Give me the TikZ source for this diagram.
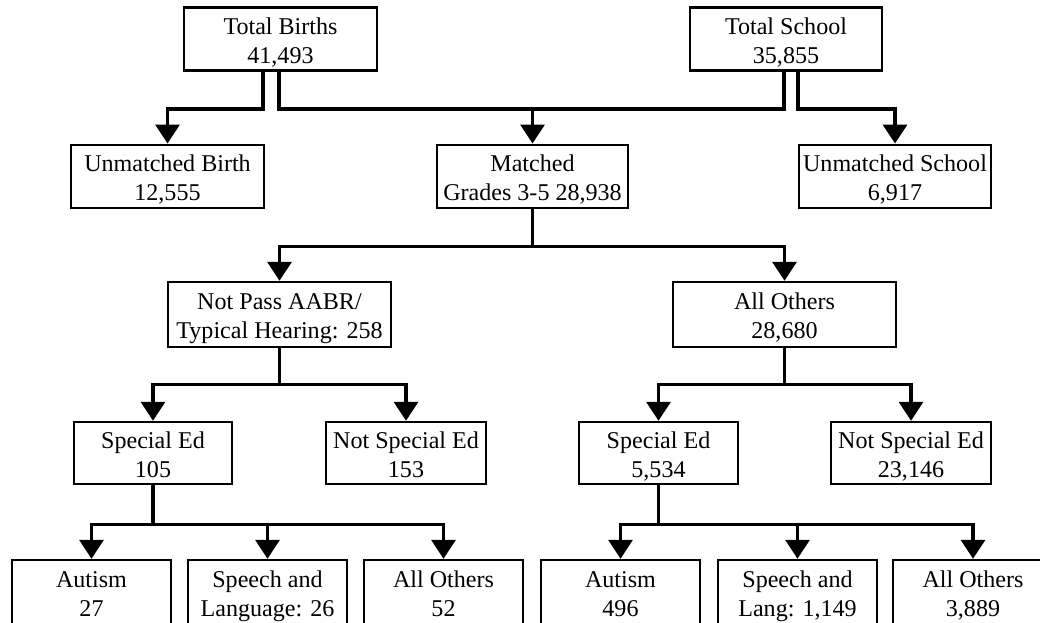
\documentclass[tikz,border=0pt]{standalone}
\usepackage{fontspec}
\setmainfont{Liberation Serif}
\usetikzlibrary{arrows.meta, positioning}
\tikzset{
    box/.style={rectangle, draw=black, line width=0.05cm, inner sep=0pt, minimum width=#1, minimum height=1.27cm, align=center, text height=30.5pt, text depth=3pt, font=\fontsize{13.7}{16.5}\selectfont},
    box/.default=3.2cm,
    arrow/.style={line width=0.07cm, -{Triangle[length=0.38cm, width=0.48cm]}},
    link/.style={line width=0.07cm}
}

\begin{document}
\begin{tikzpicture}[
        x=0.02cm, y=-0.02cm % one unit = one pixel of the layout, y going down
    ]
        \useasboundingbox (0,0) rectangle (1040,622);

        % Nodes
        \node[box=3.86cm] (births) at (280.5,39) {Total Births\\41,493};
        \node[box=3.84cm] (school) at (786,39) {Total School\\35,855};
        \node[box=3.86cm] (unbirth) at (167.5,176.5) {Unmatched Birth\\12,555};
        \node[box=3.82cm] (matched) at (532.5,176.5) {Matched\\Grades 3-5 28,938};
        \node[box=3.84cm] (unschool) at (895,176.5) {Unmatched School\\6,917};
        \node[box=4.46cm, minimum height=1.3cm] (notpass) at (279.5,314.5) {Not Pass AABR/\\Typical Hearing: 258};
        \node[box=4.46cm, minimum height=1.3cm] (others) at (784.5,314.5) {All Others\\28,680};
        \node[box=3.16cm, minimum height=1.24cm] (spedA) at (153,453) {Special Ed\\105};
        \node[box, minimum height=1.24cm] (nspedA) at (406,453) {Not Special Ed\\153};
        \node[box=3.18cm, minimum height=1.24cm] (spedB) at (658.5,453) {Special Ed\\5,534};
        \node[box, minimum height=1.24cm] (nspedB) at (911,453) {Not Special Ed\\23,146};
        \node[box=3.18cm, minimum height=1.28cm] (autA) at (91.5,592) {Autism\\27};
        \node[box=3.18cm, minimum height=1.28cm] (langA) at (267.5,592) {Speech and\\Language: 26};
        \node[box=3.18cm, minimum height=1.28cm] (restA) at (443.5,592) {All Others\\52};
        \node[box=3.18cm, minimum height=1.28cm] (autB) at (620.5,592) {Autism\\496};
        \node[box=3.18cm, minimum height=1.28cm] (langB) at (797.5,592) {Speech and\\Lang: 1,149};
        \node[box, minimum height=1.28cm] (restB) at (973,592) {All Others\\3,889};
        \coordinate (mtop) at (532.5,108);

        % Arrows
        \draw[arrow] ([xshift=-0.35cm]births.south) -- ++(0,37) -| (unbirth.north);
        \draw[link] ([xshift=-0.03cm]births.south) -- ++(0,37) -| ([xshift=-0.04cm]school.south);
        \draw[arrow] ([xshift=0.24cm]school.south) -- ++(0,37) -| (unschool.north);
        \draw[arrow] (mtop) -- (matched.north);
        \draw[arrow] (matched.south) -- ++(0,37) -| (notpass.north);
        \draw[arrow] (matched.south) -- ++(0,37) -| (others.north);
        \draw[arrow] (notpass.south) -- ++(0,36) -| (spedA.north);
        \draw[arrow] (notpass.south) -- ++(0,36) -| (nspedA.north);
        \draw[arrow] (others.south) -- ++(0,36) -| (spedB.north);
        \draw[arrow] (others.south) -- ++(0,36) -| (nspedB.north);
        \draw[arrow] (spedA.south) -- ++(0,39) -| (autA.north);
        \draw[arrow] (spedA.south) -- ++(0,39) -| (langA.north);
        \draw[arrow] (spedA.south) -- ++(0,39) -| (restA.north);
        \draw[arrow] (spedB.south) -- ++(0,39) -| (autB.north);
        \draw[arrow] (spedB.south) -- ++(0,39) -| (langB.north);
        \draw[arrow] (spedB.south) -- ++(0,39) -| (restB.north);
    \end{tikzpicture}
\end{document}
